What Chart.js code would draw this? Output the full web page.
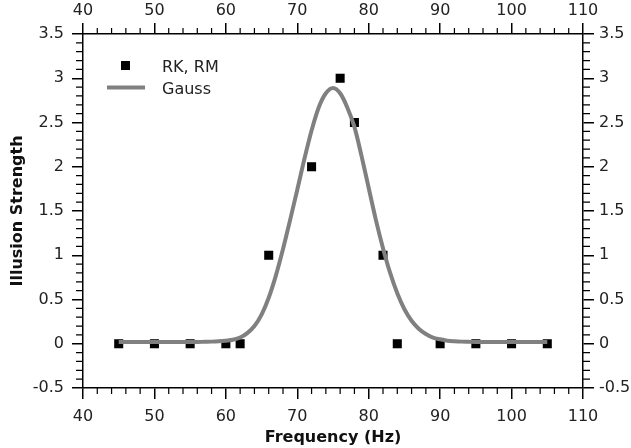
<!DOCTYPE html>
<html>
<head>
<meta charset="utf-8">
<script src="https://cdn.jsdelivr.net/npm/chart.js@4.4.1/dist/chart.umd.min.js"></script>
<style>
  html, body { margin: 0; padding: 0; background: #fff; }
</style>
</head>
<body>
<canvas id="chart" width="631" height="448"></canvas>
<script>
// measured points (RK, RM)
var freq = [45, 50, 55, 60, 62, 66, 72, 76, 78, 82, 84, 90, 95, 100, 105];
var strength = [0, 0, 0, 0, 0, 1, 2, 3, 2.5, 1, 0, 0, 0, 0, 0];

// gauss fit, every 1 Hz
var gaussFreq = [45, 46, 47, 48, 49, 50, 51, 52, 53, 54, 55, 56, 57, 58, 59, 60,
  61, 62, 63, 64, 65, 66, 67, 68, 69, 70, 71, 72, 73, 74, 75, 76, 77, 78, 79, 80,
  81, 82, 83, 84, 85, 86, 87, 88, 89, 90, 91, 92, 93, 94, 95, 96, 97, 98, 99, 100,
  101, 102, 103, 104, 105];
var gaussFit = [0.02, 0.02, 0.02, 0.02, 0.02, 0.02, 0.02, 0.02, 0.02, 0.02, 0.02, 0.02, 0.022, 0.024, 0.028, 0.035,
  0.045, 0.07, 0.12, 0.2, 0.33, 0.52, 0.77, 1.07, 1.4, 1.74, 2.09, 2.41, 2.67, 2.83, 2.89, 2.83, 2.67, 2.45, 2.12, 1.76,
  1.4, 1.08, 0.8, 0.57, 0.39, 0.26, 0.17, 0.11, 0.07, 0.05, 0.035, 0.028, 0.024, 0.022, 0.02, 0.02, 0.02, 0.02, 0.02, 0.02,
  0.02, 0.02, 0.02, 0.02, 0.02];

var xTicks = [40, 50, 60, 70, 80, 90, 100, 110];
var yTicks = [-0.5, 0, 0.5, 1, 1.5, 2, 2.5, 3, 3.5];

var tickFont = { family: 'DejaVu Sans', size: 16 };
var titleFont = { family: 'DejaVu Sans', size: 16, weight: 'bold' };

function axis(pos, ticks, extra) {
  var a = {
    type: 'linear',
    position: pos,
    min: ticks[0],
    max: ticks[ticks.length - 1],
    afterBuildTicks: function(s) { s.ticks = ticks.map(function(v) { return { value: v }; }); },
    ticks: {
      font: tickFont,
      color: '#222',
      maxRotation: 0,
      autoSkip: false,
      callback: function(v) { return String(Math.round(v * 10) / 10); }
    },
    grid: { drawOnChartArea: false, tickLength: 11, color: '#000', lineWidth: 1.5 },
    border: { color: '#000', width: 1.5 }
  };
  for (var k in extra) {
    if (k === 'ticks') Object.assign(a.ticks, extra.ticks);
    else a[k] = extra[k];
  }
  return a;
}

// minor ticks + legend box inside the plot
var extras = {
  id: 'extras',
  afterDraw: function(chart) {
    var ctx = chart.ctx, a = chart.chartArea;
    var x = chart.scales.x, y = chart.scales.y;
    ctx.save();
    ctx.strokeStyle = '#000';
    ctx.lineWidth = 1.2;
    ctx.beginPath();
    for (var f = 42; f < 110; f += 2) {
      if (f % 10 === 0) continue;
      var px = x.getPixelForValue(f);
      ctx.moveTo(px, a.bottom); ctx.lineTo(px, a.bottom + 6);
      ctx.moveTo(px, a.top); ctx.lineTo(px, a.top - 6);
    }
    for (var i = -4; i < 35; i++) {
      if (i % 5 === 0) continue;
      var py = y.getPixelForValue(i / 10);
      ctx.moveTo(a.left, py); ctx.lineTo(a.left - 7, py);
      ctx.moveTo(a.right, py); ctx.lineTo(a.right + 7, py);
    }
    ctx.stroke();

    // legend
    ctx.fillStyle = '#000';
    ctx.fillRect(121, 61, 9, 9);
    ctx.strokeStyle = '#808080';
    ctx.lineWidth = 4;
    ctx.beginPath();
    ctx.moveTo(107, 87.5); ctx.lineTo(145, 87.5);
    ctx.stroke();
    ctx.fillStyle = '#222';
    ctx.font = '16px "DejaVu Sans"';
    ctx.textBaseline = 'alphabetic';
    ctx.fillText('RK, RM', 162, 72);
    ctx.fillText('Gauss', 162, 94);
    ctx.restore();
  }
};

new Chart(document.getElementById('chart'), {
  type: 'scatter',
  data: {
    datasets: [{
      label: 'Gauss',
      data: gaussFreq.map(function(f, i) { return { x: f, y: gaussFit[i] }; }),
      showLine: true,
      borderColor: '#808080',
      borderWidth: 4,
      pointRadius: 0,
      cubicInterpolationMode: 'monotone',
      xAxisID: 'x',
      yAxisID: 'y'
    }, {
      label: 'RK, RM',
      data: freq.map(function(f, i) { return { x: f, y: strength[i] }; }),
      pointStyle: 'rect',
      pointRadius: 6.4,
      pointBorderWidth: 0,
      backgroundColor: '#000',
      borderColor: '#000',
      xAxisID: 'x',
      yAxisID: 'y'
    }]
  },
  options: {
    responsive: false,
    animation: false,
    devicePixelRatio: 1,
    layout: { padding: 0 },
    plugins: { legend: { display: false }, tooltip: { enabled: false } },
    scales: {
      x: axis('bottom', xTicks, {
        ticks: { padding: 8 },
        title: { display: true, text: 'Frequency (Hz)', font: titleFont, color: '#111', padding: { top: 0, bottom: 1 } },
        afterFit: function(s) { s.height = 60; }
      }),
      x2: axis('top', xTicks, {
        ticks: { padding: 3 },
        afterFit: function(s) { s.height = 34; }
      }),
      y: axis('left', yTicks, {
        ticks: { padding: 8 },
        title: { display: true, text: 'Illusion Strength', font: titleFont, color: '#111', padding: { top: 8, bottom: 0 } },
        afterFit: function(s) { s.width = 83; }
      }),
      y2: axis('right', yTicks, {
        ticks: { padding: 5 },
        afterFit: function(s) { s.width = 48; }
      })
    }
  },
  plugins: [extras]
});
</script>
</body>
</html>
